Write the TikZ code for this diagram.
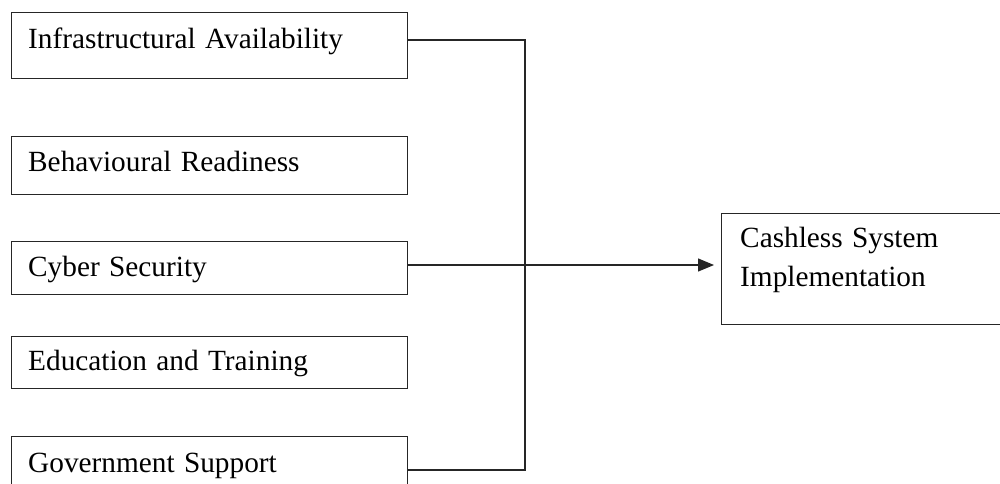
\documentclass[tikz,border=0pt]{standalone}
\usepackage{fontspec}
\setmainfont{Liberation Serif}
\usetikzlibrary{arrows.meta}
\newcommand\lblfont{\fontsize{29.3}{39}\selectfont\spaceskip=0.32em plus 0.1em\relax}
\begin{document}
\begin{tikzpicture}[x=1pt,y=-1pt,
  box/.style={draw=black!85, line width=1.3pt, minimum width=396pt, inner sep=0pt, anchor=north west},
  lbl/.style={anchor=base west, inner sep=0pt, font=\lblfont},
  conn/.style={draw=black!85, line width=1.3pt}]
\useasboundingbox (0,0) rectangle (1000,483);
% left boxes
\node[box, minimum height=66pt] (b1) at (11,12) {};
\node[box, minimum height=58pt] (b2) at (11,136) {};
\node[box, minimum height=53pt] (b3) at (11,241) {};
\node[box, minimum height=52pt] (b4) at (11,336) {};
\node[box, minimum height=64pt] (b5) at (11,436) {};
% right box
\node[box, minimum width=285pt, minimum height=111pt] (r) at (721,213) {};
% labels
\node[lbl] (t1) at (28,48) {Infrastructural Availability};
\node[lbl] (t2) at (28,171) {Behavioural Readiness};
\node[lbl] (t3) at (28,276) {Cyber Security};
\node[lbl] (t4) at (28,370) {Education and Training};
\node[lbl] (t5) at (28,472) {Government Support};
\node[lbl] (tr) at (740,247) {\begin{tabular}[t]{@{}l@{}}Cashless System\\Implementation\end{tabular}};
% connectors
\coordinate (j) at (525,265);
\draw[conn] ([yshift=-28pt]b1.north east) -| (j);
\draw[conn] ([yshift=-34pt]b5.north east) -| (j);
\draw[conn, -{Triangle[length=16pt,width=13pt]}, shorten >=7pt] (b3.east |- j) -- (r.west |- j);
\end{tikzpicture}
\end{document}
